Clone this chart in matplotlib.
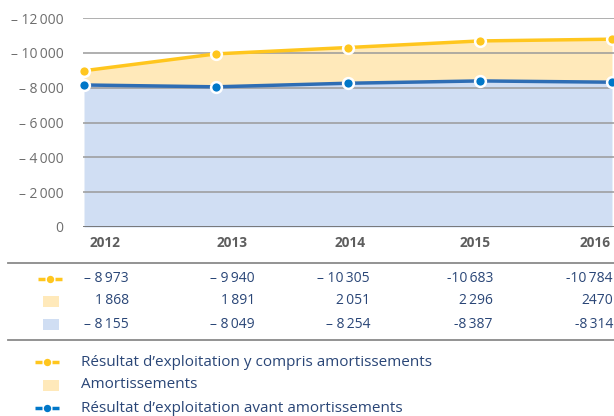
import numpy as np
import matplotlib
matplotlib.use("Agg")
import matplotlib.pyplot as plt

plt.rcParams['font.family'] = ['Open Sans', 'DejaVu Sans']

# données (valeurs absolues, en milliers)
years = ['2012', '2013', '2014', '2015', '2016']
resultat_avec = [8973, 9940, 10305, 10683, 10784]
amortissements = [1868, 1891, 2051, 2296, 2470]
resultat_avant = [8155, 8049, 8254, 8387, 8314]

# libellés du tableau, tels qu'imprimés
lbl_avec = ['\u2013 8\u2009973', '\u2013 9\u2009940', '\u2013 10\u2009305', '-10\u2009683', '-10\u2009784']
lbl_amort = ['1\u2009868', '1\u2009891', '2\u2009051', '2\u2009296', '2470']
lbl_avant = ['\u2013 8\u2009155', '\u2013 8\u2009049', '\u2013 8\u2009254', '-8\u2009387', '-8\u2009314']

y_ticks = [0, 2000, 4000, 6000, 8000, 10000, 12000]
y_labels = ['0', '\u2013 2\u2009000', '\u2013 4\u2009000', '\u2013 6\u2009000', '\u2013 8\u2009000',
            '\u2013 10\u2009000', '\u2013 12\u2009000']

legend_labels = ["Résultat d\u2019exploitation y compris amortissements",
                 "Amortissements",
                 "Résultat d\u2019exploitation avant amortissements"]

YELLOW = '#FFC61E'
YELLOW_FILL = '#FFE9BA'
BLUE = '#2E6DB4'
BLUE_DOT = '#0077C8'
BLUE_FILL = '#D0DEF3'
GRID = '#9A9A9A'
GREY_TXT = '#6E6E6E'
NAVY = '#2A4677'

W, H = 614, 416
fig = plt.figure(figsize=(W / 100, H / 100), dpi=100)

# axe principal
ax = fig.add_axes([83 / W, (H - 227) / H, (W - 83) / W, 209 / H])
x = np.arange(len(years))
ax.set_xlim(-1 / 132, 4 + 2 / 132)
ax.set_ylim(0, 12000)

ax.fill_between(x, 0, resultat_avant, color=BLUE_FILL, lw=0, zorder=1)
ax.fill_between(x, resultat_avant, resultat_avec, color=YELLOW_FILL, lw=0, zorder=1)
for t in y_ticks[1:]:
    ax.axhline(t, color=GRID, lw=1.1, zorder=2)
ax.axhline(0, color='#6F6F6F', lw=1.3, zorder=2)

ax.plot(x, resultat_avec, color=YELLOW, lw=2.5, zorder=3, clip_on=False)
ax.plot(x, resultat_avant, color=BLUE, lw=2.5, zorder=3, clip_on=False)
ax.scatter(x, resultat_avec, s=60, color=YELLOW, edgecolor='white', linewidth=1.8, zorder=4, clip_on=False)
ax.scatter(x, resultat_avant, s=60, color=BLUE_DOT, edgecolor='white', linewidth=1.8, zorder=4, clip_on=False)

ax.set_xticks([])
ax.set_yticks(y_ticks)
ax.set_yticklabels(y_labels, color=GREY_TXT, fontsize=10)
ax.tick_params(axis='y', length=0, pad=14)
for s in ax.spines.values():
    s.set_visible(False)

# calque en pixels pour le tableau et la légende
ov = fig.add_axes([0, 0, 1, 1], zorder=-1)
ov.set_xlim(0, W)
ov.set_ylim(H, 0)
ov.axis('off')

year_x = [105, 232, 350, 475, 595]
for xx, yr in zip(year_x, years):
    ov.text(xx, 243, yr, ha='center', va='center', fontsize=9.8, fontweight='bold', color='#5E5E5E')

ov.plot([8, W], [263, 263], color='#8A8A8A', lw=1.3)
ov.plot([8, W], [340, 340], color='#8A8A8A', lw=1.3)

col_x = [129, 255, 370, 493, 613]
rows_y = [279, 301, 324]
for ry, labels in zip(rows_y, [lbl_avec, lbl_amort, lbl_avant]):
    for cx, lab in zip(col_x, labels):
        ov.text(cx, ry, lab, ha='right', va='center', fontsize=10, color=NAVY)


def dash_dot(x0, y0, color):
    ov.plot([x0, x0 + 7], [y0, y0], color=color, lw=2.5, solid_capstyle='butt')
    ov.plot([x0 + 17, x0 + 24], [y0, y0], color=color, lw=2.5, solid_capstyle='butt')
    ov.scatter([x0 + 12], [y0], s=28, color=color, lw=0, zorder=3)


def square(x0, y0, color):
    ov.add_patch(plt.Rectangle((x0, y0 - 5.5), 16, 11, color=color, lw=0))


dash_dot(38, rows_y[0], YELLOW)
square(43, rows_y[1], YELLOW_FILL)
square(43, rows_y[2], BLUE_FILL)

leg_y = [362, 385, 408]
dash_dot(35, leg_y[0], YELLOW)
square(43, leg_y[1], YELLOW_FILL)
dash_dot(35, leg_y[2], BLUE_DOT)
for ly, lab in zip(leg_y, legend_labels):
    ov.text(81, ly, lab, ha='left', va='center', fontsize=11, color=NAVY)

fig.savefig('out.png', dpi=100)
